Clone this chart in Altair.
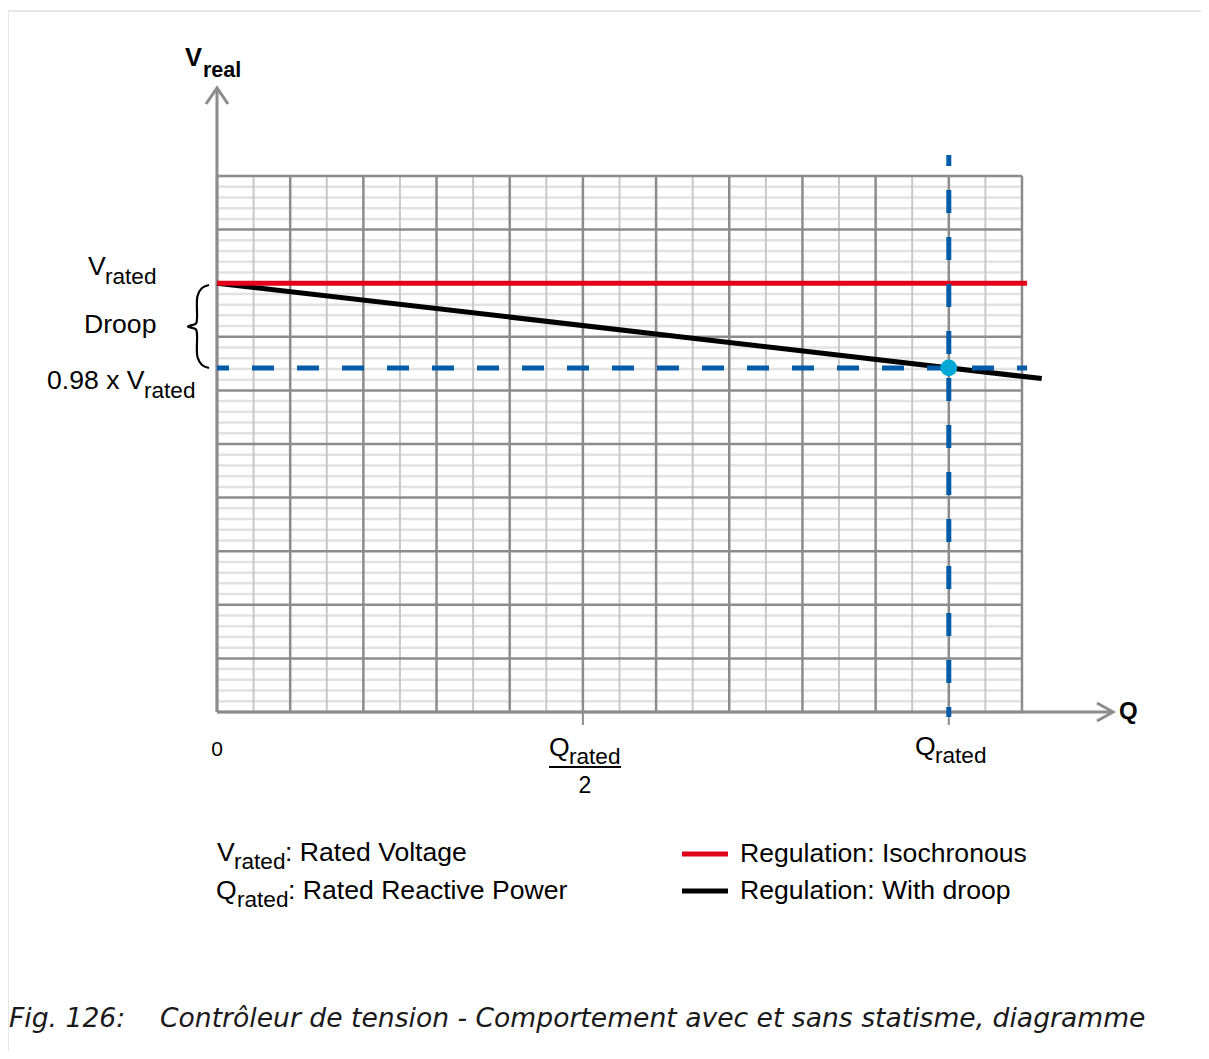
import altair as alt
import pandas as pd

# ---------------- data (in chart units: Q_rated = 10 cells, V axis 10 cells) ----------------
Q_RATED = 10.0
V_RATED = 8.0
V_DROOP = 6.42            # 0.98 x V_rated as drawn
iso_q = [0.0, 11.07]
iso_v = [V_RATED, V_RATED]
droop_q = [0.0, 11.27]
droop_v = [8.0, 6.22]
q_major = list(range(0, 12))
q_minor = [i + 0.5 for i in range(11)]
v_major = list(range(0, 11))
v_minor = [i / 5 for i in range(51) if i % 5]
tick_q = [Q_RATED / 2, Q_RATED]

# ---------------- layout helpers (page pixel -> chart units) ----------------
W, H = 1193, 1043
X0, XS = 217 - 8, 73.18
Y0, YS = 712 - 8, 53.6


def qx(px):
    return (px - 8 - X0) / XS


def vy(py):
    return (Y0 - (py - 8)) / YS


xs = alt.Scale(domain=[qx(8), qx(8 + W)], nice=False, zero=False)
ys = alt.Scale(domain=[vy(8 + H), vy(8)], nice=False, zero=False)

GRID_MAJOR = "#8c8c8c"
GRID_MINOR_V = "#c8c8c8"
GRID_MINOR_H = "#e2e2e2"
RED = "#e2001a"
BLUE = "#005ca9"
CYAN = "#00a8d6"
AXIS = "#8c8c8c"
FONT = "Liberation Sans"
BIG, SUB = 26.6, 22.6


def X(f="q"):
    return alt.X(f"{f}:Q", scale=xs, axis=None)


def Y(f="v"):
    return alt.Y(f"{f}:Q", scale=ys, axis=None)


def hrules(vals, q0, q1, color, width):
    df = pd.DataFrame({"v": vals, "q": q0, "q2": q1})
    return alt.Chart(df).mark_rule(color=color, strokeWidth=width).encode(
        x=X(), x2="q2:Q", y=Y())


def vrules(vals, v0, v1, color, width):
    df = pd.DataFrame({"q": vals, "v": v0, "v2": v1})
    return alt.Chart(df).mark_rule(color=color, strokeWidth=width).encode(
        x=X(), y=Y(), y2="v2:Q")


layers = []
# grid
layers.append(hrules(v_minor, 0, 11, GRID_MINOR_H, 2.5))
layers.append(vrules(q_minor, 0, 10, GRID_MINOR_V, 2))
layers.append(hrules(v_major, 0, 11, GRID_MAJOR, 2.5))
layers.append(vrules(q_major, 0, 10, GRID_MAJOR, 2.5))

# axes with arrows
layers.append(vrules([0], 0, vy(88), AXIS, 3))
layers.append(hrules([0], 0, qx(1113), AXIS, 3))
layers.append(vrules(tick_q, 0, vy(725), AXIS, 2))
arrow = pd.DataFrame({
    "q": [qx(206), 0, qx(228), qx(1097), qx(1113), qx(1097)],
    "v": [vy(104), vy(88), vy(104), vy(703), 0, vy(721)],
    "g": ["y", "y", "y", "x", "x", "x"],
    "o": [0, 1, 2, 0, 1, 2],
})
layers.append(alt.Chart(arrow).mark_line(color=AXIS, strokeWidth=3, strokeJoin="miter").encode(
    x=X(), y=Y(), detail="g:N", order="o:Q"))

# regulation lines
layers.append(alt.Chart(pd.DataFrame({"q": droop_q, "v": droop_v})).mark_line(
    color="#000000", strokeWidth=5, strokeCap="butt").encode(x=X(), y=Y()))
layers.append(alt.Chart(pd.DataFrame({"q": iso_q, "v": iso_v})).mark_line(
    color=RED, strokeWidth=5, strokeCap="butt").encode(x=X(), y=Y()))

# blue dashed guides
layers.append(alt.Chart(pd.DataFrame({"q": [0], "q2": [11.07], "v": [V_DROOP]})).mark_rule(
    color=BLUE, strokeWidth=5, strokeDash=[22, 23], strokeDashOffset=10).encode(
    x=X(), x2="q2:Q", y=Y()))
layers.append(alt.Chart(pd.DataFrame({"q": [Q_RATED], "v": [vy(155)], "v2": [vy(717)]})).mark_rule(
    color=BLUE, strokeWidth=5, strokeDash=[23, 24], strokeDashOffset=12).encode(
    x=X(), y=Y(), y2="v2:Q"))

# operating point
layers.append(alt.Chart(pd.DataFrame({"q": [Q_RATED], "v": [V_DROOP]})).mark_point(
    filled=True, shape="circle", size=280, color=CYAN, opacity=1).encode(x=X(), y=Y()))

# brace between V_rated and 0.98 V_rated
brace = pd.DataFrame({
    "q": [qx(p) for p in [209, 202, 197.5, 197, 196, 188, 196, 197, 197.5, 202, 209]],
    "v": [vy(p) for p in [285, 288, 296, 318, 323.5, 326.5, 329.5, 335, 357, 365, 368]],
    "o": list(range(11)),
})
layers.append(alt.Chart(brace).mark_line(color="#000000", strokeWidth=2.2, interpolate="catmull-rom").encode(
    x=X(), y=Y(), order="o:Q"))

# fraction bar of Q_rated / 2
layers.append(alt.Chart(pd.DataFrame({"q": [qx(549)], "q2": [qx(621)], "v": [vy(767)]})).mark_rule(
    color="#000000", strokeWidth=2).encode(x=X(), x2="q2:Q", y=Y()))

# legend swatches
layers.append(alt.Chart(pd.DataFrame({"q": [qx(682)] * 2, "q2": [qx(728)] * 2,
                                      "v": [vy(854), vy(891)], "c": [RED, "#000000"]})).mark_rule(
    strokeWidth=5).encode(x=X(), x2="q2:Q", y=Y(), color=alt.Color("c:N", scale=None)))

# texts: (text, page x, page baseline y, font size, align)
texts = [
    ("V", 88, 275, BIG, "left"), ("rated", 105, 284, SUB, "left"),
    ("Droop", 84, 333, BIG, "left"),
    ("0.98 x V", 47, 389, BIG, "left"), ("rated", 144, 398, SUB, "left"),
    ("0", 217, 756, 21, "center"),
    ("Q", 549, 756, BIG, "left"), ("rated", 569, 764, SUB, "left"),
    ("2", 585, 793, 23, "center"),
    ("Q", 915, 755, BIG, "left"), ("rated", 935, 763, SUB, "left"),
    ("V", 217, 861, BIG, "left"), ("rated", 234, 869, SUB, "left"),
    (": Rated Voltage", 285, 861, BIG, "left"),
    ("Q", 216, 899, BIG, "left"), ("rated", 237, 907, SUB, "left"),
    (": Rated Reactive Power", 288, 899, BIG, "left"),
    ("Regulation: Isochronous", 740, 862, BIG, "left"),
    ("Regulation: With droop", 740, 899, BIG, "left"),
]
tdf = pd.DataFrame({
    "t": [t[0] for t in texts], "q": [qx(t[1]) for t in texts], "v": [vy(t[2]) for t in texts],
    "fs": [t[3] for t in texts], "al": [t[4] for t in texts],
})
for al in ["left", "center"]:
    layers.append(alt.Chart(tdf[tdf.al == al]).mark_text(
        align=al, baseline="alphabetic", font=FONT, color="#000000").encode(
        x=X(), y=Y(), text="t:N", size=alt.Size("fs:Q", scale=None)))

bold = [("V", 185, 66, 25.5), ("real", 203, 77, 21.5), ("Q", 1119, 719, 24)]
bdf = pd.DataFrame({"t": [b[0] for b in bold], "q": [qx(b[1]) for b in bold],
                    "v": [vy(b[2]) for b in bold], "fs": [b[3] for b in bold]})
layers.append(alt.Chart(bdf).mark_text(
    align="left", baseline="alphabetic", font=FONT, fontWeight="bold", color="#000000").encode(
    x=X(), y=Y(), text="t:N", size=alt.Size("fs:Q", scale=None)))

# caption
cap = pd.DataFrame({
    "t": ["Fig. 126:", "Contrôleur de tension - Comportement avec et sans statisme, diagramme"],
    "q": [qx(9), qx(160)], "v": [vy(1027), vy(1027)]})
layers.append(alt.Chart(cap).mark_text(
    align="left", baseline="alphabetic", font="DejaVu Sans", fontStyle="italic", fontSize=26.6,
    color="#1a1a1a").encode(x=X(), y=Y(), text="t:N"))

# page frame
layers.append(alt.Chart(pd.DataFrame({"a": [0]})).mark_rule(color="#e6e6e6", strokeWidth=2).encode(
    x=alt.value(0), x2=alt.value(W), y=alt.value(3)))
layers.append(alt.Chart(pd.DataFrame({"a": [0]})).mark_rule(color="#e6e6e6", strokeWidth=2).encode(
    x=alt.value(0), y=alt.value(3), y2=alt.value(H)))

chart = alt.layer(*layers).properties(
    width=W, height=H, padding=0, autosize=alt.AutoSizeParams(type="none")
).configure_view(stroke=None)

chart.save("out.html", embed_options={"renderer": "svg", "actions": False})
